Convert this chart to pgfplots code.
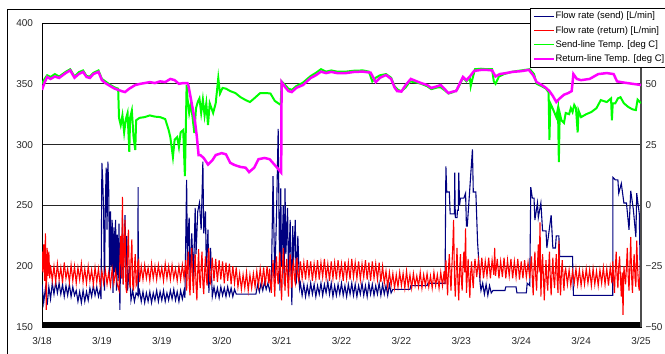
\documentclass[border=0pt]{standalone}
\usepackage{pgfplots}
\pgfplotsset{compat=1.18}
\usepackage{fontspec}
\setmainfont{Liberation Sans}
\definecolor{navyc}{RGB}{0,0,128}
\definecolor{redc}{RGB}{255,0,0}
\definecolor{greenc}{RGB}{0,255,0}
\definecolor{magc}{RGB}{255,0,255}
\begin{document}
\begin{tikzpicture}
\draw[black, line width=0.8pt] (-35bp,-100bp) rectangle (720bp,318bp);
\begin{axis}[
  at={(0,0)}, anchor=south west,
  width=599bp, height=304bp, scale only axis,
  xmin=0, xmax=7, ymin=150, ymax=400,
  xtick={0,0.7,1.4,2.1,2.8,3.5,4.2,4.9,5.6,6.3,7},
  xticklabels={3/18,3/19,3/19,3/20,3/21,3/22,3/22,3/23,3/24,3/24,3/25},
  ytick={150,200,250,300,350,400},
  ymajorgrids, grid style={black!85, line width=0.8pt},
  major tick length=0,
  axis line style={black, line width=0.8pt},
  tick label style={font=\fontsize{10}{12}\selectfont, text=black!85},
  /pgf/number format/assume math mode=true,
  yticklabel style={xshift=-5.5bp},
  xticklabel style={yshift=-6.5bp},
]
\addplot[navyc, line width=1.1pt] coordinates {
(0.00,185)(0.02,170)(0.04,182)(0.06,168)(0.08,183)(0.10,173)(0.12,186)(0.14,177)(0.16,187)(0.18,178)(0.20,186)(0.22,177)(0.24,185)(0.26,175)(0.28,184)(0.30,176)(0.32,185)(0.34,175)(0.36,183)(0.38,176)(0.40,180)(0.42,171)(0.44,179)(0.46,170)(0.48,180)(0.50,171)(0.52,179)(0.54,172)(0.56,182)(0.58,175)(0.60,184)(0.62,176)(0.64,183)(0.66,175)(0.68,181)(0.69,173)
(0.70,285)(0.71,270)(0.72,245)(0.73,180)(0.74,250)(0.75,281)(0.76,230)(0.77,286)(0.78,262)(0.79,190)(0.80,245)(0.81,200)(0.82,238)(0.83,178)(0.84,232)(0.85,195)(0.86,238)(0.87,180)(0.88,226)(0.89,188)(0.90,235)(0.91,164)(0.92,220)(0.93,190)(0.94,240)(0.95,185)(0.97,242)(0.98,200)(0.99,225)(1.00,180)(1.02,200)(1.04,172)(1.06,180)(1.08,171)(1.10,178)(1.12,176)(1.123,265)(1.126,176)
(1.14,180)(1.16,171)(1.18,179)(1.20,170)(1.22,178)(1.24,171)(1.26,179)(1.28,170)(1.30,178)(1.32,172)(1.34,180)(1.36,171)(1.38,179)(1.40,172)(1.42,180)(1.44,171)(1.46,178)(1.48,172)(1.50,180)(1.52,173)(1.54,181)(1.56,172)(1.58,179)(1.60,171)(1.62,180)(1.64,173)(1.66,180)(1.67,174)
(1.69,271)(1.70,200)(1.71,230)(1.72,240)(1.73,185)(1.75,227)(1.77,190)(1.79,248)(1.80,210)(1.82,245)(1.84,252)(1.86,230)(1.88,286)(1.89,227)(1.91,245)(1.92,200)(1.94,230)(1.95,178)(1.97,215)(1.99,175)
(2.01,183)(2.03,175)(2.05,182)(2.07,174)(2.09,183)(2.11,176)(2.13,182)(2.15,175)(2.17,183)(2.19,176)(2.21,182)(2.23,175)(2.25,181)(2.27,177)(2.50,177)(2.52,185)(2.54,179)(2.56,186)(2.58,180)(2.60,187)(2.62,181)(2.64,186)(2.66,180)(2.68,186)
(2.70,274)(2.71,230)(2.72,190)(2.74,240)(2.76,313)(2.77,240)(2.78,180)(2.79,264)(2.80,200)(2.82,250)(2.83,185)(2.84,264)(2.85,210)(2.87,248)(2.88,190)(2.90,238)(2.92,168)(2.93,233)(2.94,205)(2.96,238)(2.97,185)(2.99,225)(3.01,182)
(3.02,186)(3.04,176)(3.06,185)(3.08,175)(3.10,184)(3.12,176)(3.14,186)(3.16,177)(3.18,185)(3.20,175)(3.22,184)(3.24,177)(3.26,186)(3.28,176)(3.30,185)(3.32,178)(3.34,187)(3.36,177)(3.38,186)(3.40,175)(3.42,184)(3.44,176)(3.46,185)(3.48,177)(3.50,186)(3.52,176)(3.54,184)(3.56,175)(3.58,185)(3.60,177)(3.62,186)(3.64,176)(3.66,185)(3.68,175)(3.70,184)(3.72,177)(3.74,186)(3.76,176)(3.78,184)(3.80,175)(3.82,186)(3.84,177)(3.86,185)(3.88,176)(3.90,184)(3.92,177)(3.94,186)(3.96,176)(3.98,185)(4.00,177)(4.02,184)(4.04,176)(4.06,185)(4.08,178)(4.10,181)
(4.30,181)(4.31,184)(4.50,184)(4.51,186)(4.71,186)
(4.72,282)(4.73,261)(4.76,261)(4.77,243)(4.82,243)(4.823,277)(4.83,240)(4.85,240)(4.855,246)(4.865,246)(4.87,277)(4.88,250)(4.89,256)(4.93,256)(4.95,260)(4.96,233)(4.97,233)(5.03,296)(5.04,261)(5.07,261)(5.09,220)(5.12,186)
(5.13,180)(5.15,186)(5.17,177)(5.19,185)(5.21,176)(5.23,184)(5.25,178)(5.27,180)(5.41,180)(5.42,183)(5.54,183)(5.55,178)(5.66,178)(5.67,186)(5.70,184)
(5.712,265)(5.73,256)(5.75,256)(5.76,238)(5.79,252)(5.80,240)(5.83,252)(5.85,229)(5.89,229)(5.90,215)(5.95,242)(5.97,215)(6.00,215)(6.01,225)(6.04,225)(6.05,208)(6.20,208)(6.21,176)(6.67,176)
(6.672,273)(6.70,271)(6.73,271)(6.74,260)(6.77,268)(6.80,252)(6.83,252)(6.86,230)(6.88,262)(6.91,247)(6.94,224)(6.95,260)(6.98,243)(6.99,200)(7.00,180)
};
\addplot[redc, line width=1.1pt] coordinates {
(0.00,212)(0.01,195)(0.02,218)(0.03,188)(0.04,227)(0.05,164)(0.06,215)(0.07,192)(0.08,212)(0.09,190)
(0.10,201)(0.12,188)(0.14,200)(0.16,187)(0.18,202)(0.20,189)(0.22,199)(0.24,186)(0.26,203)(0.28,190)(0.30,198)(0.32,187)(0.34,201)(0.36,188)(0.38,200)(0.40,186)(0.42,199)(0.44,189)(0.46,202)(0.48,187)(0.50,198)(0.52,186)(0.54,200)(0.56,188)(0.58,197)(0.60,185)(0.62,199)(0.64,187)(0.66,198)(0.68,184)(0.70,196)(0.72,186)(0.74,197)(0.76,185)(0.78,195)(0.80,184)(0.82,198)(0.84,186)(0.86,196)(0.88,185)
(0.90,180)(0.91,205)(0.92,225)(0.93,190)(0.94,257)(0.95,185)(0.96,215)(0.97,238)(0.98,183)(0.99,178)(1.00,212)(1.01,230)(1.02,190)(1.03,182)(1.04,205)(1.05,222)(1.06,185)(1.07,180)(1.08,200)(1.09,210)(1.10,184)(1.11,186)(1.12,203)(1.13,205)(1.14,187)
(1.16,200)(1.18,189)(1.20,201)(1.22,190)(1.24,199)(1.26,188)(1.28,202)(1.30,190)(1.32,200)(1.34,189)(1.36,201)(1.38,191)(1.40,199)(1.42,188)(1.44,202)(1.46,190)(1.48,200)(1.50,189)(1.52,201)(1.54,190)(1.56,198)(1.58,188)(1.60,200)(1.62,189)(1.64,201)(1.66,190)
(1.68,205)(1.69,180)(1.70,200)(1.71,212)(1.72,185)(1.73,176)(1.74,200)(1.75,215)(1.76,190)(1.77,178)(1.78,198)(1.79,210)(1.80,185)(1.81,172)(1.82,195)(1.83,214)(1.84,190)(1.85,182)(1.86,200)(1.87,212)(1.88,186)(1.89,177)(1.90,195)(1.91,208)(1.92,190)(1.93,184)(1.94,205)(1.95,215)(1.96,188)(1.97,186)
(1.99,207)(2.01,188)(2.03,206)(2.05,187)(2.07,205)(2.09,189)(2.11,204)(2.13,186)(2.15,203)(2.17,188)(2.19,202)(2.21,185)(2.23,200)(2.25,186)(2.27,199)(2.29,183)
(2.31,194)(2.33,181)(2.35,193)(2.37,182)(2.39,195)(2.41,180)(2.43,193)(2.45,182)(2.47,194)(2.49,183)(2.51,196)(2.53,184)(2.55,198)(2.57,185)(2.59,199)(2.61,184)(2.63,200)(2.65,186)
(2.66,198)(2.67,185)(2.68,178)(2.69,195)(2.70,205)(2.71,190)(2.72,175)(2.73,196)(2.74,208)(2.75,192)(2.76,185)(2.77,200)(2.78,212)(2.79,188)(2.80,172)(2.81,198)(2.82,215)(2.83,195)(2.84,180)(2.85,196)(2.86,206)(2.87,190)(2.88,175)(2.89,198)(2.90,210)(2.91,192)(2.92,182)(2.93,200)(2.94,204)(2.95,190)(2.96,186)(2.97,200)(2.98,207)(2.99,192)(3.00,188)
(3.02,204)(3.04,190)(3.06,203)(3.08,189)(3.10,205)(3.12,191)(3.14,204)(3.16,188)(3.18,202)(3.20,190)(3.22,205)(3.24,189)(3.26,203)(3.28,191)(3.30,206)(3.32,190)(3.34,202)(3.36,188)(3.38,204)(3.40,190)(3.42,203)(3.44,189)(3.46,205)(3.48,191)(3.50,202)(3.52,188)(3.54,204)(3.56,190)(3.58,203)(3.60,189)(3.62,206)(3.64,191)(3.66,203)(3.68,190)(3.70,204)(3.72,189)(3.74,202)(3.76,191)(3.78,205)(3.80,189)(3.82,203)(3.84,188)(3.86,204)(3.88,190)(3.90,202)(3.92,189)(3.94,203)(3.96,187)(3.98,200)
(4.00,186)(4.02,196)(4.04,183)(4.06,195)(4.08,184)(4.10,194)(4.12,182)(4.14,193)(4.16,183)(4.18,195)(4.20,184)(4.22,194)(4.24,182)(4.26,196)(4.28,183)(4.30,193)(4.32,182)(4.34,194)(4.36,184)(4.38,192)(4.40,183)(4.42,195)(4.44,182)(4.46,193)(4.48,184)(4.50,194)(4.52,183)(4.54,192)(4.56,182)(4.58,195)(4.60,184)(4.62,193)(4.64,182)(4.66,195)(4.68,184)(4.70,196)
(4.71,185)(4.72,205)(4.73,190)(4.74,176)(4.75,198)(4.76,210)(4.77,192)(4.78,180)(4.79,200)(4.80,215)(4.81,238)(4.82,190)(4.83,175)(4.84,196)(4.85,215)(4.86,188)(4.87,172)(4.88,195)(4.89,210)(4.90,190)(4.91,180)(4.92,200)(4.93,212)(4.94,195)(4.95,231)(4.96,178)(4.97,192)(4.98,206)(4.99,188)(5.00,174)(5.01,195)(5.02,204)(5.03,190)(5.04,182)(5.05,198)(5.06,206)
(5.08,191)(5.10,205)(5.12,192)(5.14,207)(5.16,190)(5.18,204)(5.20,192)(5.22,207)(5.24,190)(5.26,205)(5.28,193)(5.29,215)(5.30,192)(5.32,206)(5.34,190)(5.36,204)(5.38,191)(5.40,207)(5.42,190)(5.44,205)(5.46,192)(5.48,206)(5.50,190)(5.52,204)(5.54,191)(5.56,206)(5.58,189)(5.60,204)(5.62,190)(5.64,205)(5.66,191)(5.68,203)(5.70,190)
(5.71,200)(5.72,208)(5.73,190)(5.74,176)(5.75,198)(5.76,212)(5.77,192)(5.78,180)(5.79,200)(5.80,218)(5.81,195)(5.82,236)(5.83,175)(5.84,195)(5.85,210)(5.86,190)(5.87,172)(5.88,192)(5.89,205)(5.90,188)(5.91,180)(5.92,198)(5.93,212)(5.94,190)(5.95,176)(5.96,195)(5.97,207)(5.98,190)(5.99,182)(6.00,198)(6.01,210)(6.02,190)(6.03,178)(6.04,221)(6.05,192)(6.06,176)(6.07,195)(6.08,205)(6.09,190)(6.10,180)(6.11,195)
(6.12,198)(6.14,185)(6.16,197)(6.18,184)(6.20,196)(6.22,186)(6.24,198)(6.26,185)(6.28,197)(6.30,184)(6.32,196)(6.34,185)(6.36,198)(6.38,186)(6.40,197)(6.42,184)(6.44,198)(6.46,185)(6.48,196)(6.50,184)(6.52,197)(6.54,186)(6.56,199)(6.58,185)(6.60,198)(6.62,184)(6.64,199)(6.66,186)
(6.67,204)(6.68,190)(6.69,178)(6.70,198)(6.71,212)(6.72,192)(6.73,182)(6.74,200)(6.75,208)(6.76,190)(6.77,175)(6.78,195)(6.79,160)(6.80,200)(6.81,192)(6.82,185)(6.83,200)(6.84,215)(6.85,192)(6.86,180)(6.87,200)(6.88,224)(6.89,192)(6.90,178)(6.91,198)(6.92,210)(6.93,190)(6.94,183)(6.95,221)(6.96,200)(6.97,185)(6.98,180)(6.99,198)(7.00,195)
};
\addplot[black, line width=5bp] coordinates {(0,152)(7,152)};
\end{axis}
\begin{axis}[
  at={(0,0)}, anchor=south west,
  width=599bp, height=304bp, scale only axis,
  xmin=0, xmax=7, ymin=-50, ymax=75,
  axis y line*=right, axis x line=none,
  ytick={-50,-25,0,25,50}, yticklabels={−50,−25,0,25,50},
  major tick length=0,
  y axis line style={gray!60!black, line width=1.2pt},
  tick label style={font=\fontsize{10}{12}\selectfont, text=black!85},
  yticklabel style={xshift=1bp},
  legend cell align=left,
  legend style={at={(0.8145,1.05)}, anchor=north west, draw=black, line width=0.7pt, fill=white,
    font=\fontsize{9.5}{10}\selectfont, inner xsep=3bp, inner ysep=2.5bp, row sep=3.2bp,
    nodes={inner sep=0.8bp, text height=7.5bp, text depth=2bp}},
  legend image code/.code={\draw[#1] (0bp,0bp) -- (20bp,0bp);},
]
\addlegendimage{navyc, line width=1.3pt}
\addlegendentry{Flow rate (send) [L/min]}
\addlegendimage{redc, line width=1.3pt}
\addlegendentry{Flow rate (return) [L/min]}
\addlegendimage{greenc, line width=1.3pt}
\addlegendentry{Send-line Temp. [deg C]}
\addlegendimage{magc, line width=1.5pt}
\addlegendentry{Return-line Temp. [deg C]}
\addplot[greenc, line width=2pt, forget plot] coordinates {
(0.00,50.0)(0.03,52.0)(0.06,53.5)(0.10,52.8)(0.15,54.0)(0.20,53.0)(0.28,55.0)(0.33,56.0)(0.38,53.0)(0.43,54.8)(0.48,55.5)(0.52,53.2)(0.56,53.0)(0.60,54.5)(0.66,55.5)(0.70,52.0)(0.74,51.0)(0.80,49.5)(0.85,48.5)(0.89,48.0)
(0.90,36.0)(0.92,33.0)(0.94,37.0)(0.96,30.0)(0.98,35.5)(1.00,38.0)(1.02,22.0)(1.03,36.0)(1.05,39.0)(1.07,28.0)(1.09,22.8)(1.10,35.0)(1.14,36.0)(1.20,36.3)(1.26,37.0)(1.32,36.5)(1.38,36.3)(1.44,35.5)(1.48,31.0)(1.50,28.0)(1.53,19.9)(1.55,27.0)(1.58,28.1)(1.60,24.0)(1.62,30.0)(1.65,31.0)(1.67,12.0)(1.68,30.0)
(1.69,49.5)(1.70,44.0)(1.72,38.0)(1.74,42.0)(1.76,36.0)(1.78,29.8)(1.80,40.0)(1.82,42.5)(1.84,44.0)(1.86,38.0)(1.88,43.5)(1.90,37.0)(1.92,42.0)(1.94,33.0)(1.96,42.0)(1.98,40.0)(2.00,38.0)(2.03,42.0)(2.06,52.4)(2.08,46.0)(2.11,48.3)(2.15,48.0)(2.20,47.0)(2.26,46.2)(2.32,44.5)(2.38,43.3)(2.43,42.5)(2.48,44.0)(2.55,46.2)(2.62,46.2)(2.67,46.0)(2.72,43.0)(2.76,42.0)(2.79,41.3)
(2.80,51.0)(2.84,49.5)(2.88,48.0)(2.92,47.5)(2.97,49.0)(3.05,50.5)(3.14,53.2)(3.20,54.5)(3.26,56.0)(3.32,55.0)(3.38,55.5)(3.45,55.0)(3.55,55.0)(3.65,55.4)(3.75,55.5)(3.82,55.0)(3.86,51.0)(3.90,52.5)(3.95,53.5)(4.02,54.0)(4.08,52.5)(4.12,49.0)(4.16,47.5)(4.20,47.0)(4.25,48.5)(4.30,51.0)(4.38,50.5)(4.43,50.0)(4.50,49.0)(4.55,47.8)(4.62,48.5)(4.66,48.5)(4.70,47.5)(4.75,46.0)(4.80,46.5)(4.85,47.5)(4.88,49.5)(4.92,52.5)(4.96,51.0)(5.00,52.5)(5.01,49.0)(5.03,52.0)(5.06,56.0)(5.13,56.2)(5.20,56.0)(5.26,56.0)(5.28,51.0)(5.30,50.0)(5.34,53.0)(5.40,54.0)(5.50,55.0)(5.60,55.5)(5.70,56.0)(5.75,54.0)(5.78,50.0)(5.84,49.0)(5.89,48.0)(5.92,46.5)
(5.93,26.9)(5.94,42.0)(5.96,40.5)(5.99,38.0)(6.01,36.3)(6.03,40.0)(6.04,17.8)(6.05,38.0)(6.07,35.0)(6.10,33.9)(6.12,38.0)(6.16,37.5)(6.18,40.0)(6.20,38.4)(6.22,41.3)(6.24,40.0)(6.26,30.0)(6.27,39.0)(6.30,36.3)(6.36,37.5)(6.42,38.4)(6.48,40.0)(6.53,43.3)(6.60,42.5)(6.65,44.0)(6.66,35.0)(6.67,42.0)(6.70,42.0)(6.73,44.0)(6.76,44.5)(6.80,42.0)(6.85,40.5)(6.90,39.5)(6.94,39.2)(6.96,43.5)(7.00,42.0)
};
\addplot[magc, line width=2.5pt, forget plot] coordinates {
(0,47.5)(0.03,50.5)(0.06,52.8)(0.10,52.0)(0.15,53.0)(0.20,52.4)(0.28,54.5)(0.33,55.5)(0.38,52.5)(0.43,54.0)(0.48,54.9)(0.52,52.8)(0.56,52.4)(0.60,54.0)(0.66,54.9)(0.70,51.5)(0.74,50.3)(0.80,49.0)(0.85,48.0)(0.89,47.5)(0.93,47.0)(0.97,46.6)(1.02,48.0)(1.09,49.5)(1.15,50.0)(1.20,50.3)(1.26,50.7)(1.32,50.3)(1.38,51.0)(1.44,50.7)(1.50,52.0)(1.55,51.5)(1.60,50.0)(1.65,50.3)(1.70,50.3)
(1.71,49.5)(1.76,40.0)(1.79,33.9)(1.81,28.1)(1.83,20.7)(1.85,20.7)(1.89,19.5)(1.94,16.8)(1.99,18.5)(2.03,20.7)(2.10,21.5)(2.15,21.0)(2.20,17.5)(2.25,16.6)(2.32,15.8)(2.38,15.5)(2.42,13.7)(2.48,15.5)(2.53,19.0)(2.60,19.5)(2.66,19.0)(2.72,16.6)(2.76,15.0)(2.79,13.7)(2.795,13.5)
(2.80,50.7)(2.84,48.7)(2.88,47.0)(2.92,46.6)(2.97,48.3)(3.05,49.5)(3.14,52.4)(3.20,53.5)(3.26,55.0)(3.32,54.4)(3.38,54.9)(3.45,54.4)(3.55,54.4)(3.65,54.9)(3.75,55.0)(3.84,54.6)(3.90,50.7)(3.95,52.5)(4.02,53.6)(4.08,52.0)(4.12,48.5)(4.15,47.0)(4.20,46.8)(4.25,49.5)(4.31,52.0)(4.38,51.0)(4.43,50.3)(4.50,49.5)(4.55,48.3)(4.62,49.0)(4.66,49.5)(4.70,48.0)(4.75,46.2)(4.80,46.8)(4.84,47.0)(4.88,50.0)(4.92,52.8)(4.96,51.5)(5.00,53.0)(5.05,55.3)(5.13,55.7)(5.20,55.7)(5.26,55.5)(5.30,53.0)(5.35,54.0)(5.42,54.4)(5.50,54.9)(5.60,55.2)(5.69,55.7)(5.74,53.5)(5.78,50.7)(5.84,49.5)(5.89,48.3)(5.93,47.0)(5.97,45.0)(6.01,42.5)(6.05,44.0)(6.10,45.5)(6.15,46.2)(6.19,47.0)
(6.21,54.0)(6.25,52.0)(6.30,51.5)(6.40,52.0)(6.50,54.0)(6.60,54.4)(6.68,54.0)(6.72,51.0)(6.80,50.5)(6.90,50.0)(7.00,49.5)
};
\end{axis}
\pgfresetboundingbox
\path (-42bp,-27bp) rectangle (623bp,327bp);
\end{tikzpicture}
\end{document}
